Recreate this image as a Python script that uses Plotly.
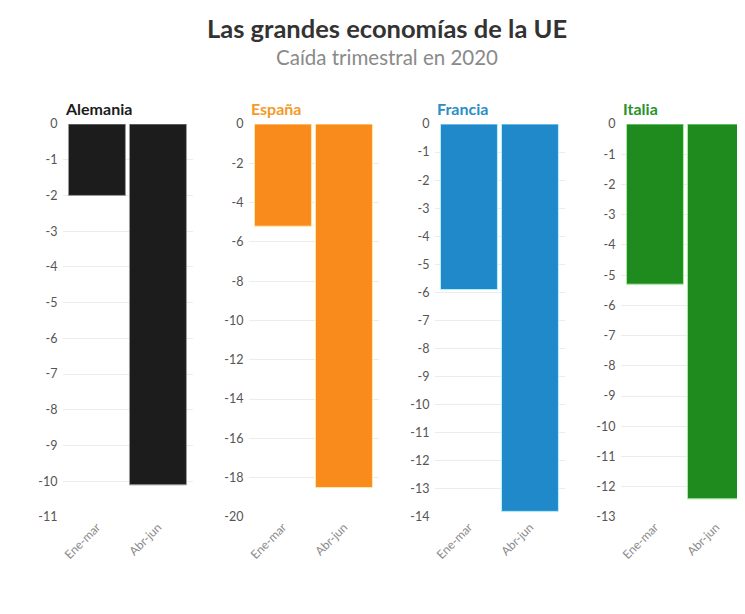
import plotly.graph_objects as go

quarters = ["Ene-mar", "Abr-jun"]
countries = ["Alemania", "España", "Francia", "Italia"]
alemania = [-2.0, -10.1]
espana = [-5.2, -18.5]
francia = [-5.9, -13.8]
italia = [-5.3, -12.4]
series = [alemania, espana, francia, italia]
y_mins = [-11, -20, -14, -13]
y_dticks = [1, 2, 1, 1]
colors = ["#1c1c1c", "#f98b1c", "#1f89c9", "#1f8b1f"]
edge_colors = ["#9a9a9a", "#ffe7a8", "#b6f0ff", "#a8eea0"]
title_colors = ["#1c1c1c", "#f39a2a", "#2a8fc6", "#2a922a"]

OFF = 8  # page body margin
W, H = 745, 614
top, bottom = 124 - OFF, 517 - OFF
left_px = [62.5 - OFF, 248.5 - OFF, 434.5 - OFF, 620.5 - OFF]
unit = 61.0
span_px = 130.0

fig = go.Figure()
for i, (name, vals) in enumerate(zip(countries, series)):
    xa = "x" if i == 0 else f"x{i+1}"
    ya = "y" if i == 0 else f"y{i+1}"
    fig.add_trace(go.Bar(
        x=[0, 1], y=vals, xaxis=xa, yaxis=ya,
        marker=dict(color=colors[i], line=dict(color=edge_colors[i], width=1)),
        width=0.934, showlegend=False, hoverinfo="skip",
    ))
    l = left_px[i]
    r = min(l + span_px, W)
    xr_hi = -0.565 + (r - l) / unit
    xkey = "xaxis" if i == 0 else f"xaxis{i+1}"
    ykey = "yaxis" if i == 0 else f"yaxis{i+1}"
    tv = list(range(0, y_mins[i] - 1, -y_dticks[i]))
    fig.layout[xkey] = dict(
        domain=[l / W, r / W], anchor=ya, range=[-0.565, xr_hi],
        tickmode="array", tickvals=[0, 1], ticktext=quarters, tickangle=-45,
        tickfont=dict(family="Lato", size=12, color="#8a8a8a"),
        showgrid=False, zeroline=False, showline=False, ticks="",
    )
    fig.layout[ykey] = dict(
        domain=[0, 1], anchor=xa, range=[y_mins[i], 0],
        tickmode="array", tickvals=tv, ticktext=[str(v) for v in tv],
        tickfont=dict(family="Lato", size=12.5, color="#555"),
        showgrid=True, gridcolor="#ececec", gridwidth=1,
        zeroline=False, showline=False, ticks="", ticklabelstandoff=4,
    )
    fig.add_annotation(
        text=f"<b>{name}</b>", x=l / W, xref="paper", xanchor="left",
        y=(bottom - (108 - OFF)) / (bottom - top), yref="paper", yanchor="middle",
        showarrow=False, font=dict(family="Lato", size=16, color=title_colors[i]),
    )

fig.add_annotation(
    text="<b>Las grandes economías de la UE</b>", x=(387 - OFF) / W, xref="paper", xanchor="center",
    y=(bottom - (28 - OFF)) / (bottom - top), yref="paper", yanchor="middle",
    showarrow=False, font=dict(family="Lato", size=25.5, color="#333"),
)
fig.add_annotation(
    text="Caída trimestral en 2020", x=(387 - OFF) / W, xref="paper", xanchor="center",
    y=(bottom - (57 - OFF)) / (bottom - top), yref="paper", yanchor="middle",
    showarrow=False, font=dict(family="Lato", size=20.5, color="#8a8a8a"),
)

fig.update_layout(
    width=W, height=H, bargap=0.066,
    margin=dict(l=0, r=0, t=top, b=H - bottom),
    paper_bgcolor="white", plot_bgcolor="white",
)
fig.write_html("out.html")
